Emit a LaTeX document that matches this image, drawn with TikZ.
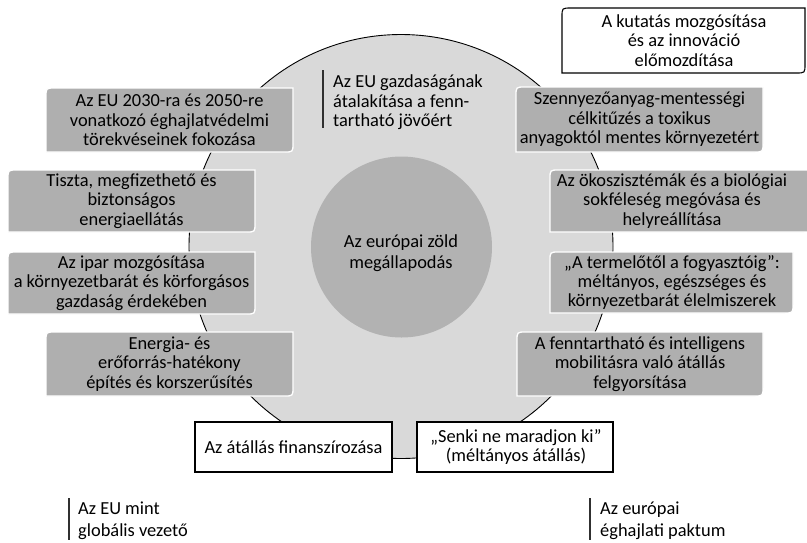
\documentclass[tikz,border=0pt]{standalone}
\usepackage{fontspec}
\setmainfont{Carlito}
\definecolor{ringgray}{HTML}{D9D9D9}
\definecolor{coregray}{HTML}{B2B2B2}
\definecolor{boxgray}{HTML}{AFAFAF}
\definecolor{bargray}{HTML}{303030}
\tikzset{
  lbl/.style={align=center, inner sep=0pt, font=\fontsize{18.4}{19.3}\selectfont},
  freelbl/.style={align=left, inner sep=0pt, font=\fontsize{18.4}{21.5}\selectfont},
  sidebar/.style={draw=bargray, line width=1.4pt},
  whitebox/.style={draw=black, fill=white, line width=1.1pt},
}
% box with rounded top-left and bottom-right corners
% #1 name, #2 x1, #3 y1, #4 x2, #5 y2, #6 text centre x, #7 text, #8 path style
\newcommand\diagbox[8]{%
  \path[#8] (#2,#3+9) .. controls (#2,#3) .. (#2+9,#3) -- (#4,#3) -- (#4,#5-9)
     .. controls (#4,#5) .. (#4-9,#5) -- (#2,#5) -- cycle;
  \node[lbl] (#1) at (#6,{(#3+#5)/2}) {#7};}
\newcommand\plainbox[7]{%
  \path[whitebox] (#2,#3) rectangle (#4,#5);
  \node[lbl] (#1) at (#6,{(#3+#5)/2}) {#7};}
\begin{document}
\begin{tikzpicture}[x=1pt,y=-1pt]
\useasboundingbox (0,0) rectangle (807,542);
\path[fill=white] (0,0) rectangle (807,542);

% outer ring and core
\node[circle, draw=black, line width=0.9pt, fill=ringgray, minimum size=424pt, inner sep=0pt] (ring) at (401,246.5) {};
\node[circle, fill=coregray, minimum size=181pt, inner sep=0pt] (core) at (401.5,247) {};
\node[lbl, font=\fontsize{18.4}{21.5}\selectfont] (coretxt) at (401,253) {Az európai zöld\\megállapodás};

% research box at the top right
\diagbox{kutatas}{562}{8}{805}{73}{684}{A kutatás mozgósítása\\és az innováció\\előmozdítása}{draw=black, fill=white, line width=1.1pt}

% left column
\diagbox{klima}{46}{88}{293}{152}{169.5}{Az EU 2030-ra és 2050-re\\vonatkozó éghajlatvédelmi\\törekvéseinek fokozása}{fill=boxgray, draw=white, line width=1.3pt}
\diagbox{energia}{8}{170}{255}{232}{131.5}{Tiszta, megfizethető és\\biztonságos\\energiaellátás}{fill=boxgray, draw=white, line width=1.3pt}
\diagbox{ipar}{8}{252}{255}{314}{131.5}{Az ipar mozgósítása\\a környezetbarát és körforgásos\\gazdaság érdekében}{fill=boxgray, draw=white, line width=1.3pt}
\diagbox{epites}{46}{332}{293}{396}{169.5}{Energia- és\\erőforrás-hatékony\\építés és korszerűsítés}{fill=boxgray, draw=white, line width=1.3pt}

% right column
\diagbox{szenny}{516}{87}{763}{152}{639.5}{Szennyezőanyag-mentességi\\célkitűzés a toxikus\\anyagoktól mentes környezetért}{fill=boxgray, draw=white, line width=1.3pt}
\diagbox{oko}{550}{170}{812}{232}{672}{Az ökoszisztémák és a biológiai\\sokféleség megóvása és\\helyreállítása}{fill=boxgray, draw=white, line width=1.3pt}
\diagbox{elelm}{550}{252}{793}{313}{672}{„A termelőtől a fogyasztóig”:\\méltányos, egészséges és\\környezetbarát élelmiszerek}{fill=boxgray, draw=white, line width=1.3pt}
\diagbox{mobil}{517}{332}{763}{396}{640}{A fenntartható és intelligens\\mobilitásra való átállás\\felgyorsítása}{fill=boxgray, draw=white, line width=1.3pt}

% bottom white boxes
\plainbox{finansz}{195}{422}{392}{472}{293.5}{Az átállás finanszírozása}
\plainbox{senki}{417}{422}{613}{472}{516}{„Senki ne maradjon ki”\\(méltányos átállás)}

% side-barred labels
\node[freelbl, font=\fontsize{18.4}{19.3}\selectfont, anchor=north west] (gazd) at (333,75) {Az EU gazdaságának\\átalakítása a fenn-\\tartható jövőért};
\coordinate (gazdT) at (323,70);
\coordinate (gazdB) at (323,128);
\draw[sidebar] (gazdT) -- (gazdB);

\node[freelbl, anchor=north west] (vezeto) at (78,502) {Az EU mint\\globális vezető};
\coordinate (vezT) at (69,498);
\coordinate (vezB) at (69,540);
\draw[sidebar] (vezT) -- (vezB);

\node[freelbl, anchor=north west] (paktum) at (600,502) {Az európai\\éghajlati paktum};
\coordinate (pakT) at (590,498);
\coordinate (pakB) at (590,540);
\draw[sidebar] (pakT) -- (pakB);
\end{tikzpicture}
\end{document}
